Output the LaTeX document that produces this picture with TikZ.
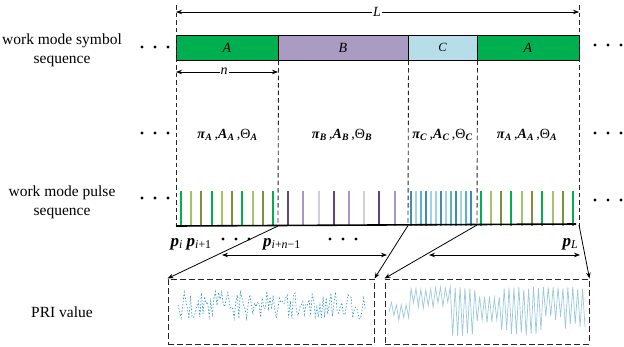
\documentclass[tikz,border=0pt]{standalone}
\usepackage{fontspec}
\setmainfont{Liberation Serif}
\usetikzlibrary{arrows.meta}
\definecolor{gA}{HTML}{00B050}
\definecolor{gL}{HTML}{A5C46A}
\definecolor{gO}{HTML}{77933C}
\definecolor{barB}{HTML}{A99BC1}
\definecolor{barC}{HTML}{B7DDE8}
\definecolor{pD}{HTML}{5F497A}
\definecolor{pM}{HTML}{A797C2}
\definecolor{pL}{HTML}{D3CCE2}
\definecolor{bD}{HTML}{3E8DB5}
\definecolor{bL}{HTML}{A3D2E2}
\definecolor{bM}{HTML}{5AB2CE}
\definecolor{sigL}{HTML}{3A98C6}
\definecolor{sigR}{HTML}{9CC8DC}
\newcommand\lblfont{\fontsize{15.5}{19}\selectfont}
\newcommand\bitx[1]{\textbf{\textit{#1}}}
\newcommand\sbt[1]{\textsubscript{\textbf{\textit{#1}}}}
\newcommand\prm[1]{\bitx{π}\sbt{#1}\,,\bitx{A}\sbt{#1}\,,Θ\sbt{#1}}
\begin{document}
\begin{tikzpicture}[x=1pt,y=-1pt,
  declare function={
    sighi(\x)=(\x<410)?302:((\x<450)?287:((\x<475)?286:((\x<500)?296:286)));
    siglo(\x)=(\x<410)?318:((\x<450)?305:((\x<475)?334:((\x<500)?320:((\x<545)?333:((\x<565)?318:326)))));
  },
  bar/.style={draw=black,line width=1pt,minimum height=25pt,inner sep=0pt,font=\itshape\fontsize{14}{14}\selectfont},
  vdash/.style={black!85,line width=0.9pt,dash pattern=on 4.5pt off 3pt},
  pulseline/.style={line width=2.2pt},
  arr/.style={-{Stealth[length=6pt,width=4.5pt]},line width=0.8pt},
  darr/.style={{Stealth[length=6pt,width=4.5pt]}-{Stealth[length=6pt,width=4.5pt]},line width=0.8pt},
  pribox/.style={draw=black!85,line width=1pt,dash pattern=on 6pt off 3pt,minimum height=65pt,inner sep=0pt},
  lab/.style={font=\lblfont,align=center},
  prmlab/.style={font=\fontsize{14}{14}\selectfont},
  plab/.style={font=\fontsize{17}{17}\selectfont,anchor=base west,inner sep=0pt}]
\useasboundingbox (0,0) rectangle (624,346);

% left labels
\node[lab] (lab1) at (62,50) {work mode symbol\\sequence};
\node[lab] (lab2) at (62,202) {work mode pulse\\sequence};
\node[lab] (lab3) at (62,312) {PRI value};

% symbol bar
\node[bar,fill=gA,minimum width=102pt] (sA1) at (227,47.5) {A};
\node[bar,fill=barB,minimum width=130pt] (sB) at (343,47.5) {B};
\node[bar,fill=barC,minimum width=69pt,font=\itshape\fontsize{12.5}{12.5}\selectfont] (sC) at (442.5,47.5) {C};
\node[bar,fill=gA,minimum width=102pt] (sA2) at (528,47.5) {A};

% boundary coordinates on pulse baseline
\coordinate (t0) at (176,5);
\coordinate (t5) at (579,5);
\coordinate (b0) at (176,226);
\coordinate (b1) at (278,226);
\coordinate (b2) at (408,225.5);
\coordinate (b3) at (477,225);
\coordinate (b4) at (579,225);

% dashed verticals
\draw[vdash] (t0) -- (176,230);
\draw[vdash] (t5) -- (579,230);
\draw[vdash] (sA1.south east) -- (b1);
\draw[vdash] (sB.south east) -- (b2);
\draw[vdash] (sC.south east) -- (b3);

% L and n arrows
\coordinate (La) at (176,12);
\coordinate (Lb) at (579,12);
\draw[darr] (La) -- (Lb);
\node[fill=white,inner sep=1pt,font=\itshape\fontsize{14}{14}\selectfont] (Llab) at (377,12) {L};
\coordinate (na) at (176,72);
\coordinate (nb) at (278,72);
\draw[darr] (na) -- (nb);
\node[fill=white,inner sep=1pt,font=\itshape\fontsize{14}{14}\selectfont] (nlab) at (224,71) {n};

% dots
\foreach \x in {142,155,168} {\fill (\x,47) circle (1.7); \fill (\x,133) circle (1.7); \fill (\x,198) circle (1.7);}
\foreach \x in {595,608,621} {\fill (\x,45) circle (1.7); \fill (\x,133) circle (1.7); \fill (\x,200) circle (1.7);}
\foreach \x in {223,236,249,330,343,356} {\fill (\x,239) circle (1.7);}

% parameter labels
\node[prmlab] (pr1) at (227.5,135) {\prm{A}};
\node[prmlab] (pr2) at (342,135) {\prm{B}};
\node[prmlab] (pr3) at (442.5,135) {\prm{C}};
\node[prmlab] (pr4) at (527,135) {\prm{A}};

% pulses
\foreach \x/\c in {181/gA,191/gL,201.3/gO,211.7/gA,222/gL,232/gO,242.3/gA,253/gL,263/gO,273/gA,
  288.3/pD,303.3/pM,318.7/pL,333.7/pD,349/pM,364/pL,379.3/pD,394.7/pM,
  410.7/bD,415.7/bL,420.7/bM,425.7/bD,430.7/bL,435.7/bL,440.7/bD,445.7/bL,450.7/bM,455.7/bD,460.7/bL,465.7/bM,470.7/bD,
  481/gA,491/gL,501.3/gO,511.3/gA,522/gL,532/gO,542.3/gA,552.7/gL,562.7/gO,572.7/gA}
  \draw[pulseline,\c] (\x,190.5) -- (\x,225.5);
\draw[line width=1.6pt] (b0) -- (576,224);

% pulse labels
\node[plab] (p1) at (170.5,246) {\bitx{p}\textsubscript{\textit{i}}};
\node[plab] (p2) at (186.5,246) {\bitx{p}\textsubscript{\textit{i}+1}};
\node[plab] (p3) at (263,246) {\bitx{p}\textsubscript{\textit{i}+\textit{n}−1}};
\node[plab] (p4) at (562.5,246) {\bitx{p}\textsubscript{\textit{L}}};

% PRI boxes
\node[pribox,minimum width=206pt] (box1) at (271,311.5) {};
\node[pribox,minimum width=204pt] (box2) at (487,311.5) {};

% projection arrows
\draw[arr] (b1) -- (box1.north west);
\draw[arr] (b2) -- (box1.north east);
\draw[arr] (b3) -- (box2.north west);
\draw[arr] (b4) -- (box2.north east);

% span arrows
\coordinate (s1a) at (222,255);
\coordinate (s1b) at (387,255);
\coordinate (s2a) at (429,255);
\coordinate (s2b) at (580,255);
\draw[darr] (s1a) -- (s1b);
\draw[darr] (s2a) -- (s2b);

% PRI signals
\pgfmathsetseed{12}
\draw[sigL,line width=0.7pt,dash pattern=on 1.4pt off 1.8pt] (178,305)
  \foreach \i in {1,...,120} { -- ({178+1.56*\i},{305+14*rand}) };
\pgfmathsetseed{5}
\draw[sigR,line width=0.7pt] (389,312)
  \foreach \i in {1,...,80} { -- ({389+2.45*\i},{ifthenelse(isodd(\i),sighi(389+2.45*\i)+4*rnd,siglo(389+2.45*\i)+6*rnd-3)}) };
\end{tikzpicture}
\end{document}
